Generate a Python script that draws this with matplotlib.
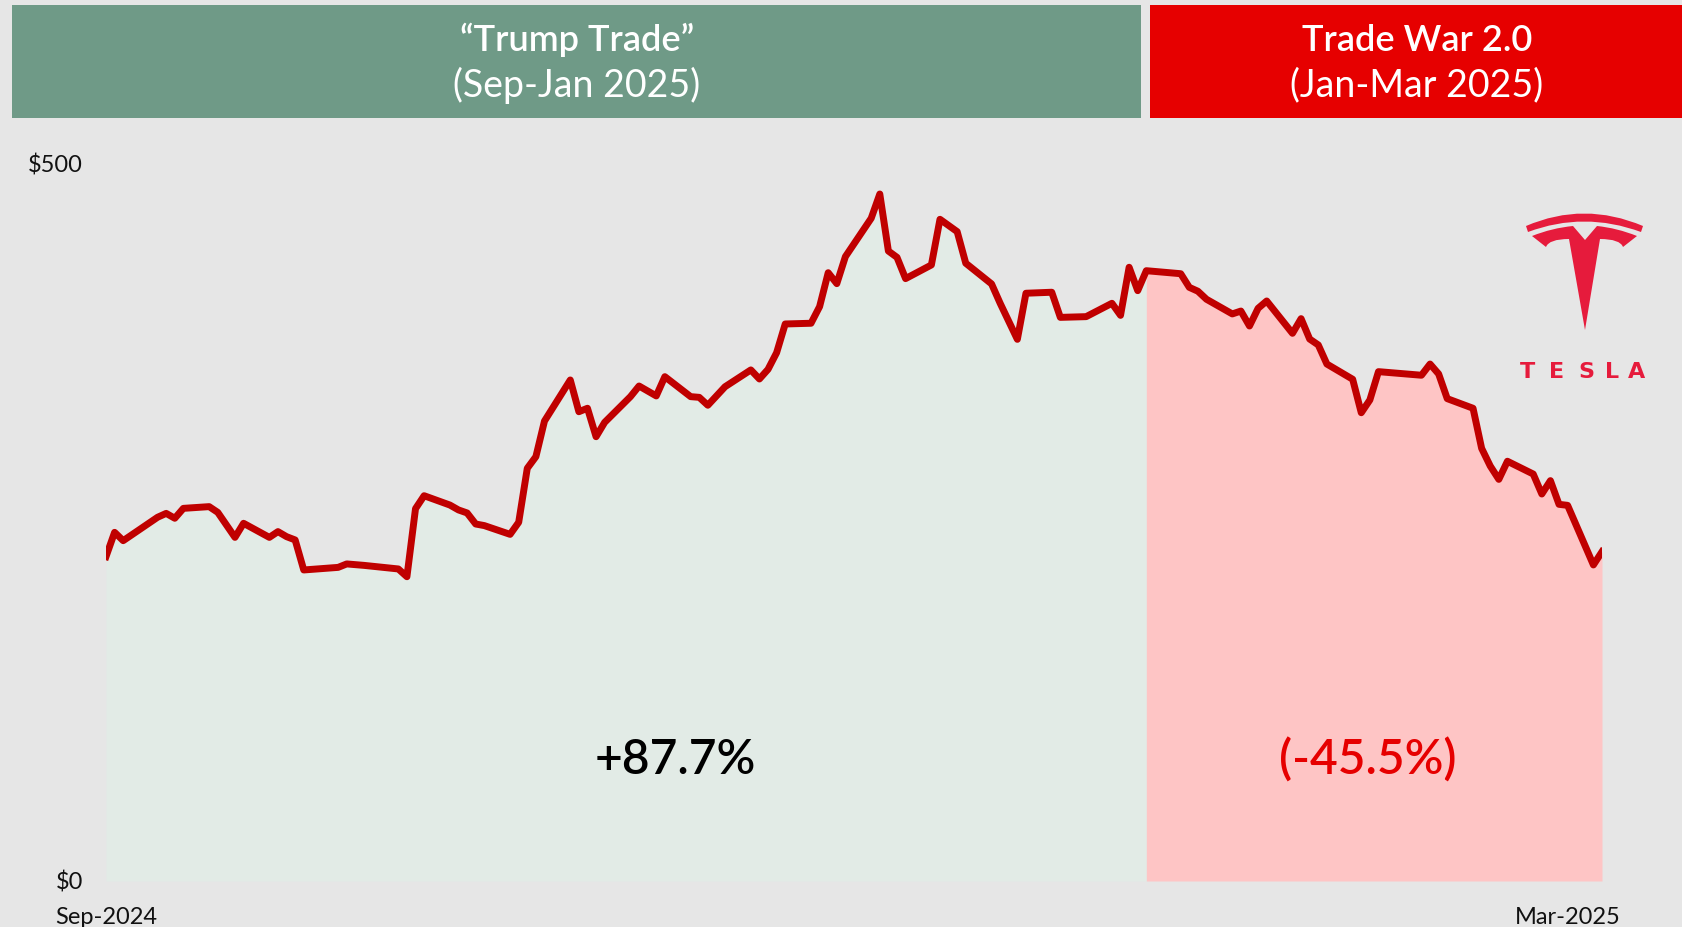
import matplotlib
matplotlib.use("Agg")
import matplotlib.pyplot as plt
from matplotlib.path import Path
from matplotlib.patches import PathPatch, Rectangle

# TSLA close, sampled at the turning points (calendar days since the first point)
days = [0, 1, 2, 6, 7, 8, 9, 12, 13, 15, 16, 19, 20, 21, 22, 23, 27, 28, 30, 34, 35,
        36, 37, 40, 41, 42, 43, 44, 47, 48, 49, 50, 51, 54, 55, 56, 57, 58, 61, 62,
        64, 65, 68, 69, 70, 72, 75, 76, 77, 78, 79, 82, 83, 84, 85, 86, 89, 90, 91,
        92, 93, 96, 97, 99, 100, 103, 104, 106, 107, 110, 111, 114, 117, 118, 119,
        120, 121, 125, 126, 127, 128, 131, 132, 133, 134, 135, 138, 139, 140, 141,
        142, 145, 146, 147, 148, 153, 154, 155, 156, 159, 160, 161, 162, 163, 166,
        167, 168, 169, 170, 173, 174]
price = [225.9, 242.8, 237.0, 253.3, 256.0, 252.6, 259.5, 260.7, 256.7, 239.3, 249.1,
         239.3, 243.3, 239.8, 237.5, 216.6, 218.4, 220.8, 219.8, 217.3, 211.9,
         259.3, 268.3, 261.8, 258.4, 256.3, 248.6, 247.5, 241.4, 249.8, 287.4,
         295.5, 320.3, 348.9, 326.8, 329.2, 309.4, 319.4, 337.3, 344.7,
         337.8, 351.2, 337.3, 336.8, 331.3, 344.2, 355.9, 349.6, 356.3, 367.9,
         387.9, 388.4, 400.0, 423.6, 416.0, 434.8, 461.5, 478.4, 438.7,
         434.3, 419.5, 429.0, 460.8, 452.2, 430.2, 415.8, 402.3, 377.2, 409.3,
         410.0, 392.5, 393.0, 402.3, 393.9, 427.4,
         411.1, 425.0, 422.9, 413.4, 410.7, 405.1, 394.9, 396.9, 386.5, 398.8, 403.9,
         381.4, 391.6, 377.4, 373.3,
         360.0, 349.4, 326.1, 335.0, 354.7, 352.2, 360.0, 353.1, 335.9, 329.2,
         301.3, 289.0, 279.7, 292.3, 283.4,
         269.5, 278.8, 262.3, 261.6, 220.1, 229.3]
split_day = 121
split_idx = days.index(split_day)

y_labels = ["$500", "$0"]
x_labels = ["Sep-2024", "Mar-2025"]

plt.rcParams["font.family"] = ["Lato", "DejaVu Sans"]

W, H = 1682, 927
BG = "#e6e6e6"
GREEN = "#6f9a87"
RED = "#e60000"
LOGO = "#e61b3c"

fig = plt.figure(figsize=(W / 100, H / 100), dpi=100, facecolor=BG)

# price area
ax = fig.add_axes([106 / W, (H - 881) / H, (1602 - 106) / W, (881 - 163) / H], zorder=1)
ax.set_xlim(days[0], days[-1])
ax.set_ylim(0, 500)
ax.axis("off")
ax.fill_between(days[:split_idx + 1], price[:split_idx + 1], 0, color="#e2ebe6", lw=0)
ax.fill_between(days[split_idx:], price[split_idx:], 0, color="#fec5c5", lw=0)
ax.plot(days, price, color="#c00000", lw=5, solid_joinstyle="round")

# full-figure layer in pixel units for the banners, labels and logo
page = fig.add_axes([0, 0, 1, 1], zorder=2)
page.set_xlim(0, W)
page.set_ylim(H, 0)
page.axis("off")

# banners
page.add_patch(Rectangle((12, 5), 1129, 113, color=GREEN, lw=0))
page.add_patch(Rectangle((1150, 5), 532, 113, color=RED, lw=0))
page.text(577, 40, "\u201cTrump Trade\u201d", color="white", fontsize=26, ha="center", va="center", fontweight="semibold")
page.text(577, 85, "(Sep-Jan 2025)", color="white", fontsize=27, ha="center", va="center", fontweight="normal")
page.text(1417, 40, "Trade War 2.0", color="white", fontsize=26, ha="center", va="center", fontweight="semibold")
page.text(1417, 85, "(Jan-Mar 2025)", color="white", fontsize=27, ha="center", va="center", fontweight="normal")

# period returns
page.text(675, 760, "+87.7%", color="black", fontsize=34.5, ha="center", va="center", fontweight="semibold")
page.text(1368, 760, "(-45.5%)", color=RED, fontsize=34.5, ha="center", va="center", fontweight="semibold")

# axis labels
page.text(83, 165, y_labels[0], fontsize=17, ha="right", va="center", color="#111111")
page.text(83, 883, y_labels[1], fontsize=17, ha="right", va="center", color="#111111")
page.text(106, 917, x_labels[0], fontsize=17, ha="center", va="center", color="#111111")
page.text(1568, 917, x_labels[1], fontsize=17, ha="center", va="center", color="#111111")

# logo mark, top arc then the T
arc = Path([(1526, 226), (1584, 201), (1643, 226), (1641, 232), (1584, 211), (1528, 232), (1526, 226)],
           [Path.MOVETO, Path.CURVE3, Path.CURVE3, Path.LINETO, Path.CURVE3, Path.CURVE3, Path.CLOSEPOLY])
page.add_patch(PathPatch(arc, fc=LOGO, lw=0))
t_verts = [(1532, 236), (1552, 228), (1573, 226), (1585, 240), (1597, 226), (1617, 228), (1637, 236),
           (1623, 247), (1620, 239), (1600, 239), (1585, 330),
           (1569, 239), (1549, 239), (1546, 247), (1532, 236)]
t_codes = [Path.MOVETO, Path.CURVE3, Path.CURVE3, Path.LINETO, Path.LINETO, Path.CURVE3, Path.CURVE3,
           Path.LINETO, Path.CURVE3, Path.CURVE3, Path.LINETO,
           Path.LINETO, Path.CURVE3, Path.CURVE3, Path.CLOSEPOLY]
page.add_patch(PathPatch(Path(t_verts, t_codes), fc=LOGO, lw=0))
for x, ch in zip([1528, 1557, 1586, 1612, 1637], "TESLA"):
    page.text(x, 372.5, ch, color=LOGO, fontsize=16, ha="center", va="center", fontweight="bold", family="DejaVu Sans")

fig.savefig("out.png", dpi=100, facecolor=BG)
